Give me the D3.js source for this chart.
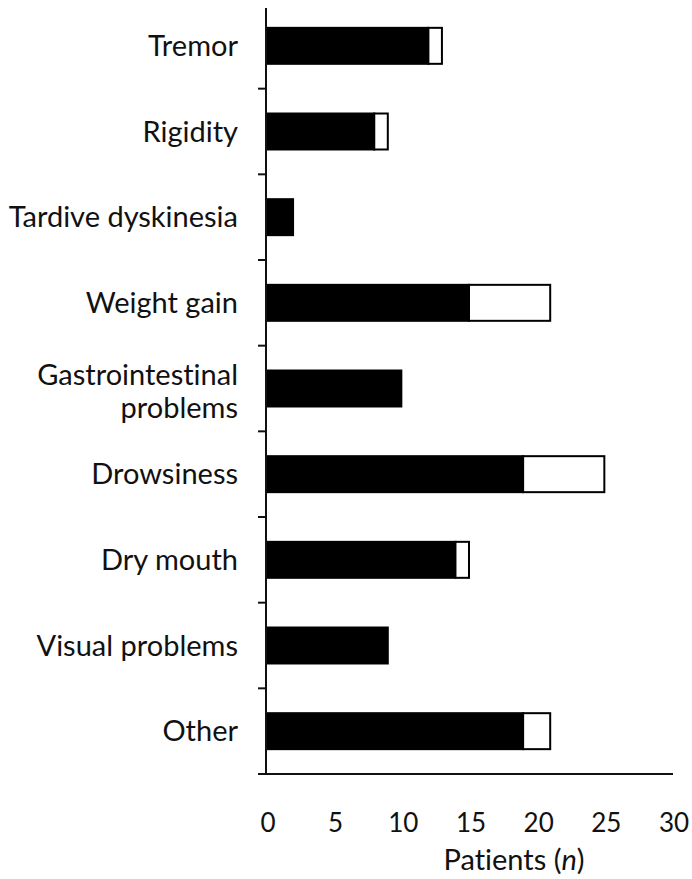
<!DOCTYPE html>
<html>
<head>
<meta charset="utf-8">
<script src="https://cdn.jsdelivr.net/npm/d3@7"></script>
<style>
  html, body { margin: 0; padding: 0; background: #fff; }
  svg { display: block; }
  text { font-family: Lato, "Open Sans", sans-serif; fill: #111; font-variant-ligatures: none; }
</style>
</head>
<body>
<svg id="chart" width="692" height="879"></svg>
<script>
// Data
const categories = ["Tremor", "Rigidity", "Tardive dyskinesia", "Weight gain",
  "Gastrointestinal problems", "Drowsiness", "Dry mouth", "Visual problems", "Other"];
const labelLines = [["Tremor"], ["Rigidity"], ["Tardive dyskinesia"], ["Weight gain"],
  ["Gastrointestinal", "problems"], ["Drowsiness"], ["Dry mouth"], ["Visual problems"], ["Other"]];
const blackValues = [12, 8, 2, 15, 10, 19, 14, 9, 19];
const whiteValues = [1, 1, 0, 6, 0, 6, 1, 0, 2];
const xTicks = [0, 5, 10, 15, 20, 25, 30];
const xTitle = "Patients";
const xTitleVar = "n";

const svg = d3.select("#chart");

const x = d3.scaleLinear().domain([0, 30]).range([266, 672]);
const y = d3.scaleBand().domain(categories).range([3, 774])
  .paddingInner(0.58).paddingOuter(0.29);

const step = y.step();
const y0 = 3;

// Bars
const g = svg.append("g");
categories.forEach((c, i) => {
  const top = y(c);
  const h = y.bandwidth();
  g.append("rect")
    .attr("x", x(0)).attr("y", top)
    .attr("width", x(blackValues[i]) - x(0)).attr("height", h)
    .attr("fill", "#000").attr("stroke", "#000").attr("stroke-width", 2);
  if (whiteValues[i] > 0) {
    g.append("rect")
      .attr("x", x(blackValues[i])).attr("y", top)
      .attr("width", x(blackValues[i] + whiteValues[i]) - x(blackValues[i])).attr("height", h)
      .attr("fill", "#fff").attr("stroke", "#000").attr("stroke-width", 2);
  }
});

// Y axis line
svg.append("line")
  .attr("x1", x(0)).attr("x2", x(0))
  .attr("y1", 8).attr("y2", 775)
  .attr("stroke", "#111").attr("stroke-width", 2);

// Y ticks at band boundaries
d3.range(1, categories.length + 1).forEach(k => {
  const yy = y0 + k * step;
  svg.append("line")
    .attr("x1", 258).attr("x2", x(0))
    .attr("y1", yy).attr("y2", yy)
    .attr("stroke", "#111").attr("stroke-width", 2);
});

// X axis line
svg.append("line")
  .attr("x1", 258).attr("x2", 673)
  .attr("y1", 774).attr("y2", 774)
  .attr("stroke", "#111").attr("stroke-width", 2);

// X tick labels
svg.append("g").selectAll("text").data(xTicks).join("text")
  .attr("x", d => x(d) + 2)
  .attr("y", 832)
  .attr("text-anchor", "middle")
  .attr("font-size", 26)
  .text(d => d);

// X title
const t = svg.append("text")
  .attr("x", 514).attr("y", 870)
  .attr("text-anchor", "middle")
  .attr("font-size", 29);
t.append("tspan").text(xTitle + " (");
t.append("tspan").attr("font-style", "italic").text(xTitleVar);
t.append("tspan").text(")");

// Category labels
categories.forEach((c, i) => {
  const cy = y(c) + y.bandwidth() / 2;
  const lines = labelLines[i];
  const txt = svg.append("text")
    .attr("text-anchor", "end")
    .attr("font-size", 29);
  if (lines.length === 1) {
    txt.append("tspan").attr("x", 238).attr("y", cy + 10).text(lines[0]);
  } else {
    txt.append("tspan").attr("x", 238).attr("y", cy - 4).text(lines[0]);
    txt.append("tspan").attr("x", 238).attr("y", cy + 29).text(lines[1]);
  }
});
</script>
</body>
</html>
